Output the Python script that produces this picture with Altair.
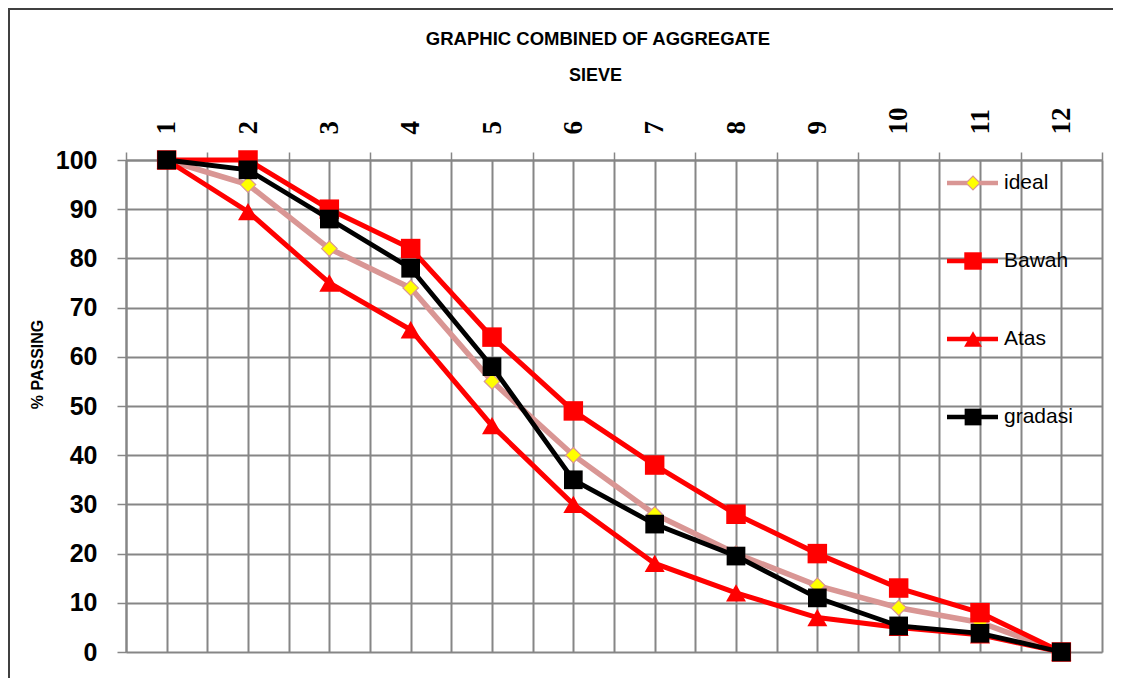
import altair as alt
import pandas as pd

# ---- data ----
sieve = [1, 2, 3, 4, 5, 6, 7, 8, 9, 10, 11, 12]
ideal = [100, 95, 82, 74, 55, 40, 28, 20, 13.5, 9, 6, 0]
bawah = [100, 100, 90, 82, 64, 49, 38, 28, 20, 13, 8, 0]
atas = [100, 89.5, 75, 65.5, 46, 30, 18, 12, 7, 5, 3.5, 0]
gradasi = [100, 98, 88, 78, 58, 35, 26, 19.5, 11, 5.3, 3.8, 0]
series_names = ["ideal", "Bawah", "Atas", "gradasi"]
series_values = [ideal, bawah, atas, gradasi]
chart_title = "GRAPHIC COMBINED OF AGGREGATE"

# ---- styles ----
PINK = "#D99694"
RED = "#FF0000"
BLACK = "#000000"
GRID = "#868686"
styles = {
    "ideal": dict(line=PINK, width=5.5, shape="diamond", fill="#FFFF00", stroke=PINK, sw=1.2, size=240),
    "Bawah": dict(line=RED, width=5, shape="square", fill=RED, stroke=RED, sw=0, size=380),
    "Atas": dict(line=RED, width=5, shape="triangle-up", fill=RED, stroke=RED, sw=0, size=400),
    "gradasi": dict(line=BLACK, width=4.8, shape="square", fill=BLACK, stroke=BLACK, sw=0, size=350),
}

W, H = 976, 492
xscale = alt.Scale(domain=[0.5, 12.5], nice=False, zero=False)
yscale = alt.Scale(domain=[0, 100], nice=False, zero=True)

x_vals = [i / 2 for i in range(1, 26)]

x_axis = alt.Axis(
    orient="top",
    values=x_vals,
    labelExpr="datum.value % 1 === 0 ? format(datum.value, 'd') : ''",
    labelAngle=270,
    labelFont="Liberation Serif",
    labelFontWeight="bold",
    labelFontSize=27,
    labelColor="#000000",
    labelPadding=18,
    labelOverlap=False,
    labelFlush=False,
    tickSize=8,
    tickColor=GRID,
    tickWidth=1.5,
    tickOpacity={"condition": {"test": "datum.value % 1 === 0", "value": 0}, "value": 1},
    grid=True,
    gridColor=GRID,
    gridWidth=2,
    gridOpacity=1,
    domainColor=GRID,
    domainWidth=2,
    title="SIEVE",
    titleFont="Liberation Sans",
    titleFontWeight="bold",
    titleFontSize=18,
    titleColor="#000000",
    titleX=469,
    titleY=-80,
    titleAlign="center",
    titleBaseline="alphabetic",
)

y_axis = alt.Axis(
    values=list(range(0, 101, 10)),
    labelFont="Liberation Sans",
    labelFontWeight="bold",
    labelFontSize=25,
    labelColor="#000000",
    labelPadding=20,
    tickSize=9,
    tickColor=GRID,
    tickWidth=1.5,
    grid=True,
    gridColor=GRID,
    gridWidth=2,
    gridOpacity=1,
    domainColor=GRID,
    domainWidth=2,
    title="% PASSING",
    titleFont="Liberation Sans",
    titleFontWeight="bold",
    titleFontSize=16,
    titleColor="#000000",
    titleAngle=270,
    titleX=-89,
    titleY=204,
    titleAlign="center",
    titleBaseline="middle",
)

layers = []

for i, (name, vals) in enumerate(zip(series_names, series_values)):
    st = styles[name]
    df = pd.DataFrame({"sieve": sieve, "value": vals, "series": name})
    enc = dict(
        x=alt.X("sieve:Q", scale=xscale, axis=x_axis),
        y=alt.Y("value:Q", scale=yscale, axis=y_axis),
    )
    line = alt.Chart(df).mark_line(color=st["line"], strokeWidth=st["width"]).encode(**enc)
    pts = alt.Chart(df).mark_point(
        shape=st["shape"], filled=True, fill=st["fill"], stroke=st["stroke"],
        strokeWidth=st["sw"], size=st["size"], opacity=1
    ).encode(**enc)
    layers += [line, pts]

main = alt.layer(*layers)

# outer chart-area border and title (decorations)
one = pd.DataFrame({"a": [0]})
border = alt.Chart(one).mark_rect(
    filled=False, stroke="#404040", strokeWidth=2
).encode(x=alt.value(-117), x2=alt.value(1200), y=alt.value(-151), y2=alt.value(800))
title_txt = alt.Chart(one).mark_text(
    align="center", baseline="alphabetic", font="Liberation Sans", fontWeight="bold",
    fontSize=18.5, color="#000000"
).encode(x=alt.value(472), y=alt.value(-115), text=alt.value(chart_title))

# manual legend
leg_layers = []
leg_scale = alt.Scale(domain=[0, 3], range=[23, 257])
for i, name in enumerate(series_names):
    st = styles[name]
    ldf = pd.DataFrame({"series": [name], "slot": [i]})
    ly = alt.Y("slot:Q", scale=leg_scale, axis=None)
    rule = alt.Chart(ldf).mark_rule(color=st["line"], strokeWidth=4.5).encode(
        x=alt.value(821), x2=alt.value(872), y=ly)
    pt = alt.Chart(ldf).mark_point(
        shape=st["shape"], filled=True, fill=st["fill"], stroke=st["stroke"],
        strokeWidth=st["sw"], size=st["size"] * 0.8, opacity=1
    ).encode(x=alt.value(847), y=ly)
    txt = alt.Chart(ldf).mark_text(
        align="left", baseline="middle", font="Liberation Sans", fontSize=21, color="#000000"
    ).encode(x=alt.value(878), y=ly, text="series:N")
    leg_layers += [rule, pt, txt]

legend = alt.layer(*leg_layers)

chart = alt.layer(border, title_txt, main, legend).resolve_scale(y="independent").properties(
    width=W,
    height=H,
    autosize=alt.AutoSizeParams(type="none"),
    padding={"left": 118, "top": 152, "right": 11, "bottom": 26},
).configure_view(stroke=None).configure(background="#FFFFFF")

chart.save("out.html", embed_options={"renderer": "svg", "actions": False})
